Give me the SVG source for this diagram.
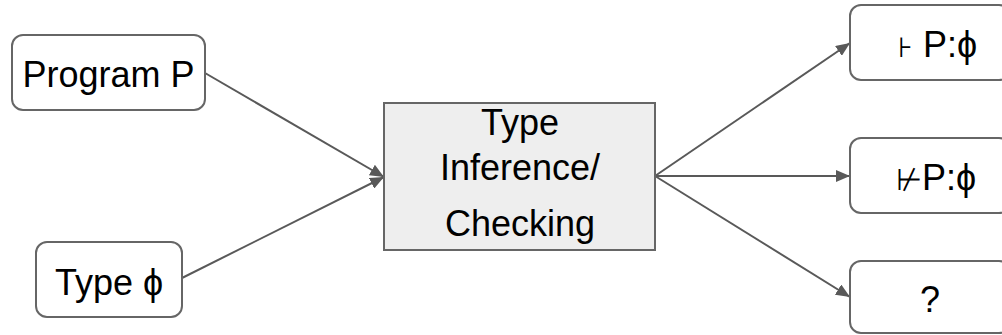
<svg xmlns="http://www.w3.org/2000/svg" width="1002" height="335" viewBox="0 0 1002 335">
<style>
.box{fill:#fff;stroke:#666;stroke-width:2}
.proc{fill:#eeeeee;stroke:#666;stroke-width:2}
.t{font-family:"Liberation Sans",Arial,sans-serif;font-size:36px;fill:#000}
.c{stroke:#595959;stroke-width:2;fill:none}
</style>
<defs>
<marker id="ah" markerUnits="userSpaceOnUse" markerWidth="16" markerHeight="12" refX="14" refY="6" orient="auto">
<path d="M0,0 L14,6 L0,12 Z" fill="#595959"/>
</marker>
</defs>
<g id="connectors">
<line class="c" x1="205" y1="73" x2="384" y2="177" marker-end="url(#ah)"/>
<line class="c" x1="182" y1="278" x2="384" y2="177" marker-end="url(#ah)"/>
<line class="c" x1="655" y1="176" x2="850" y2="43" marker-end="url(#ah)"/>
<line class="c" x1="655" y1="176" x2="850" y2="176" marker-end="url(#ah)"/>
<line class="c" x1="655" y1="176" x2="850" y2="297" marker-end="url(#ah)"/>
</g>
<g id="program">
<rect class="box" x="12" y="35" width="193" height="75" rx="11"/>
<text class="t" x="108.5" y="87" text-anchor="middle" font-size="37">Program P</text>
</g>
<g id="type">
<rect class="box" x="36" y="242" width="146" height="75" rx="11"/>
<text class="t" x="109" y="295" text-anchor="middle">Type ϕ</text>
</g>
<g id="checker">
<rect class="proc" x="384" y="103" width="271" height="147"/>
<text class="t" x="520" y="135" text-anchor="middle">Type</text>
<text class="t" x="520" y="180" text-anchor="middle">Inference/</text>
<text class="t" x="520" y="236" text-anchor="middle">Checking</text>
</g>
<g id="proves">
<rect class="box" x="850" y="5" width="160" height="75" rx="11"/>
<text class="t" x="898" y="57"><tspan font-size="28">⊦</tspan> P:ϕ</text>
</g>
<g id="notproves">
<rect class="box" x="850" y="138" width="160" height="75" rx="11"/>
<text class="t" x="896" y="190"><tspan font-size="30">⊬</tspan>P:ϕ</text>
</g>
<g id="unknown">
<rect class="box" x="850" y="261" width="160" height="72" rx="11"/>
<text class="t" x="930" y="312" text-anchor="middle">?</text>
</g>
</svg>
